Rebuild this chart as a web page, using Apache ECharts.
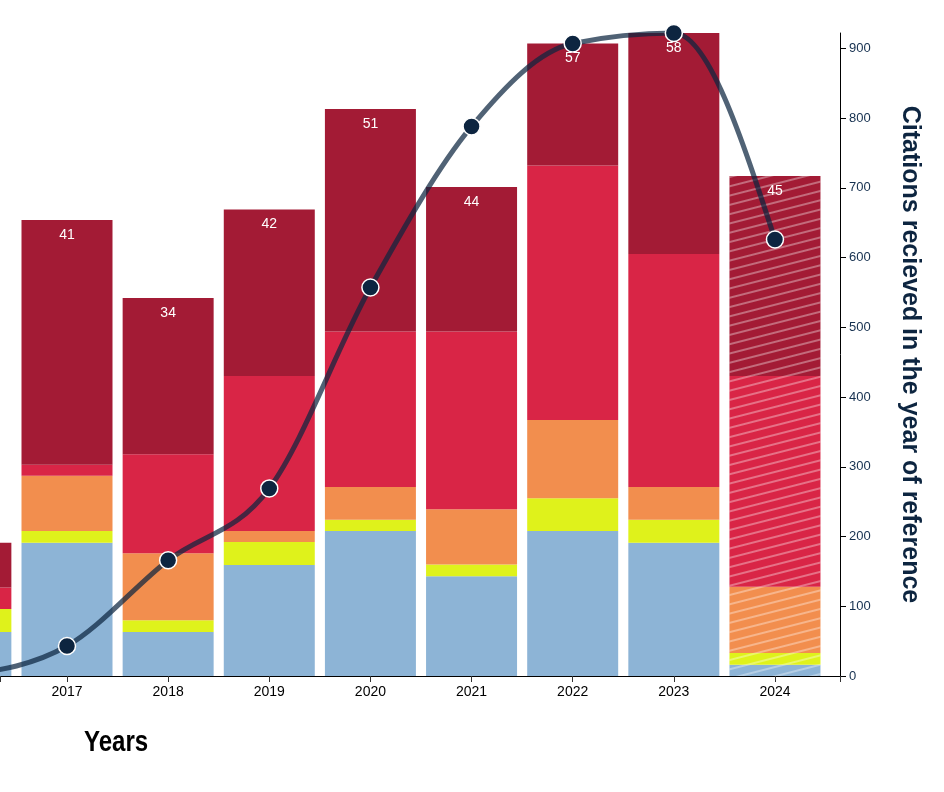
<!DOCTYPE html>
<html><head><meta charset="utf-8">
<script src="https://cdn.jsdelivr.net/npm/echarts@6/dist/echarts.min.js"></script>
<style>html,body{margin:0;padding:0;background:#fff}#chart{width:944px;height:792px}</style>
</head><body><div id="chart"></div>
<script>
// ---- data ----
const years = [2016, 2017, 2018, 2019, 2020, 2021, 2022, 2023, 2024];
const labelYears = [2017, 2018, 2019, 2020, 2021, 2022, 2023, 2024];
const papers = [null, 41, 34, 42, 51, 44, 57, 58, 45];
const blueVals   = [63, 191, 63, 159, 208, 143, 208, 191, 16];
const yellowVals = [33, 17, 17, 33, 16, 17, 47, 33, 17];
const orangeVals = [0, 79, 96, 16, 47, 79, 112, 47, 95];
const redVals    = [31, 16, 142, 222, 223, 255, 365, 334, 302];
const darkVals   = [64, 351, 224, 239, 319, 207, 175, 317, 287];
const citations  = [1, 43, 166, 269, 557, 788, 907, 922, 626];
const provisionalYear = 2024;
const yAxisTitle = 'Citations recieved in the year of reference';
const xAxisTitle = 'Years';
const xMin = 2016.3375, xMax = 2024.643, yMax = 922;

const FONT = 'Arial, "Liberation Sans", sans-serif';
const colors = ['#8db4d6', '#dff21b', '#f28e4e', '#d92546', '#a31b35'];
const hatch = {symbol: 'rect', symbolSize: 1, dashArrayX: [1, 0], dashArrayY: [2, 7], rotation: -0.25, color: 'rgba(255,255,255,0.35)'};

function barSeries(name, vals, color, withLabel) {
  const s = {
    name, type: 'bar', stack: 'total', barWidth: 91,
    encode: {x: 1, y: 0},
    itemStyle: {color},
    data: years.map((y, i) => {
      const d = {value: [vals[i], y]};
      if (y === provisionalYear) d.itemStyle = {color, decal: hatch};
      return d;
    })
  };
  if (withLabel) {
    s.label = {show: true, position: 'insideTop', distance: 8, color: '#fff', fontSize: 14, fontFamily: FONT,
      formatter: p => { const v = papers[p.dataIndex]; return v == null ? '' : String(v); }};
  }
  return s;
}

function monotoneTangents(pts) {
  const n = pts.length, t = new Array(n).fill(0);
  const sl = [];
  for (let i = 0; i < n - 1; i++) sl.push((pts[i+1][1] - pts[i][1]) / (pts[i+1][0] - pts[i][0]));
  for (let i = 1; i < n - 1; i++) {
    const h0 = pts[i][0] - pts[i-1][0], h1 = pts[i+1][0] - pts[i][0];
    const s0 = sl[i-1], s1 = sl[i];
    const p = (s0 * h1 + s1 * h0) / (h0 + h1);
    t[i] = (Math.sign(s0) + Math.sign(s1)) * Math.min(Math.abs(s0), Math.abs(s1), 0.5 * Math.abs(p)) || 0;
  }
  t[0] = (3 * sl[0] - t[1]) / 2;
  t[n-1] = (3 * sl[n-2] - t[n-2]) / 2;
  return t;
}

const chart = echarts.init(document.getElementById('chart'), null, {renderer: 'canvas'});
chart.setOption({
  backgroundColor: '#fff',
  animation: false,
  grid: {left: 0, right: 104, top: 33, bottom: 116, containLabel: false},
  xAxis: {
    type: 'value', min: xMin, max: xMax,
    splitLine: {show: false},
    axisLine: {show: true, lineStyle: {color: '#000', width: 1}},
    axisTick: {show: true, length: 6, lineStyle: {color: '#333'}, customValues: [xMin].concat(labelYears, [xMax])},
    axisLabel: {color: '#000', fontSize: 14, margin: 9, fontFamily: FONT, customValues: labelYears,
      formatter: v => String(v)}
  },
  yAxis: {
    type: 'value', position: 'right', min: 0, max: yMax, interval: 100,
    splitLine: {show: false},
    axisLine: {show: true, lineStyle: {color: '#000', width: 1}},
    axisTick: {show: true, length: 6, lineStyle: {color: '#000'}},
    axisLabel: {color: '#15304f', fontSize: 13, margin: 9, fontFamily: FONT, showMaxLabel: false},
    name: yAxisTitle, nameLocation: 'middle', nameRotate: -90, nameGap: 57,
    nameTextStyle: {fontSize: 25, fontWeight: 'bold', color: '#0d2540', fontFamily: FONT}
  },
  graphic: [{type: 'text', left: 84, top: 728, scaleX: 0.83,
    style: {text: xAxisTitle, font: 'bold 29px ' + FONT, fill: '#000'}}],
  series: [
    barSeries('blue', blueVals, colors[0]),
    barSeries('yellow', yellowVals, colors[1]),
    barSeries('orange', orangeVals, colors[2]),
    barSeries('red', redVals, colors[3]),
    barSeries('dark', darkVals, colors[4], true),
    {
      type: 'custom', coordinateSystem: 'cartesian2d', clip: false, z: 5,
      encode: {x: 0, y: 1},
      data: years.map((y, i) => [y, citations[i]]),
      renderItem: (params, api) => {
        const i = params.dataIndex;
        if (i >= years.length - 1) return null;
        const pts = years.map((y, k) => api.coord([y, citations[k]]));
        const t = monotoneTangents(pts);
        const p0 = pts[i], p1 = pts[i+1];
        const dx = (p1[0] - p0[0]) / 3;
        return {type: 'bezierCurve',
          shape: {x1: p0[0], y1: p0[1], x2: p1[0], y2: p1[1],
                  cpx1: p0[0] + dx, cpy1: p0[1] + dx * t[i], cpx2: p1[0] - dx, cpy2: p1[1] - dx * t[i+1]},
          style: {stroke: '#0d2540', lineWidth: 5, fill: 'none', opacity: 0.72, lineCap: 'butt'}};
      }
    },
    {
      type: 'scatter', clip: false, z: 6, symbol: 'circle', symbolSize: 17,
      itemStyle: {color: '#0d2540', borderColor: '#fff', borderWidth: 1.5, opacity: 1},
      data: years.map((y, i) => [y, citations[i]])
    }
  ]
});
</script></body></html>
